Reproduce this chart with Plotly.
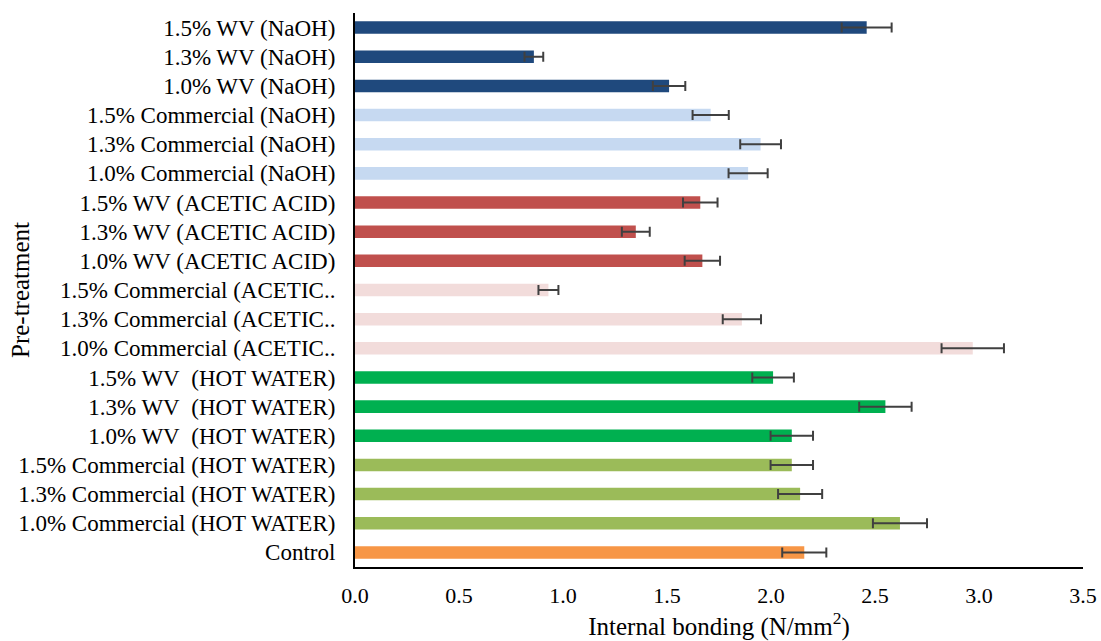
import plotly.graph_objects as go

NB = "\u00a0"
categories = [
    "1.5% WV (NaOH)",
    "1.3% WV (NaOH)",
    "1.0% WV (NaOH)",
    "1.5% Commercial (NaOH)",
    "1.3% Commercial (NaOH)",
    "1.0% Commercial (NaOH)",
    "1.5% WV (ACETIC ACID)",
    "1.3% WV (ACETIC ACID)",
    "1.0% WV (ACETIC ACID)",
    "1.5% Commercial (ACETIC..",
    "1.3% Commercial (ACETIC..",
    "1.0% Commercial (ACETIC..",
    "1.5% WV" + NB + " (HOT WATER)",
    "1.3% WV" + NB + " (HOT WATER)",
    "1.0% WV" + NB + " (HOT WATER)",
    "1.5% Commercial (HOT WATER)",
    "1.3% Commercial (HOT WATER)",
    "1.0% Commercial (HOT WATER)",
    "Control",
]
values = [2.46, 0.86, 1.51, 1.71, 1.95, 1.89, 1.66, 1.35, 1.67, 0.93, 1.86, 2.97,
          2.01, 2.55, 2.10, 2.10, 2.14, 2.62, 2.16]
errors = [0.12, 0.045, 0.078, 0.087, 0.098, 0.094, 0.083, 0.067, 0.085, 0.048, 0.092, 0.15,
          0.10, 0.126, 0.102, 0.102, 0.106, 0.13, 0.106]
colors = ["#1F497D"] * 3 + ["#C6D9F1"] * 3 + ["#C0504D"] * 3 + ["#F2DCDB"] * 3 + \
         ["#00B050"] * 3 + ["#9BBB59"] * 3 + ["#F79646"]
x_ticks = [0.0, 0.5, 1.0, 1.5, 2.0, 2.5, 3.0, 3.5]

FONT = "Liberation Serif, Times New Roman, serif"

fig = go.Figure(go.Bar(
    y=categories,
    x=values,
    orientation="h",
    marker=dict(color=colors, line=dict(width=0)),
    error_x=dict(type="data", array=errors, visible=True, color="#404040",
                 thickness=2, width=5),
    width=0.43,
))

fig.update_layout(
    width=1101, height=641,
    margin=dict(l=355, r=18, t=13, b=74),
    paper_bgcolor="white", plot_bgcolor="white",
    font=dict(family=FONT, size=22, color="black"),
    showlegend=False,
    xaxis=dict(
        range=[0, 3.5], tickvals=x_ticks,
        ticktext=[f"{v:.1f}" for v in x_ticks],
        showgrid=False, zeroline=False, automargin=False,
        showline=True, linecolor="black", linewidth=2,
        ticks="", ticklabelstandoff=8,
        tickfont=dict(family=FONT, size=22),
        title=dict(text="Internal bonding (N/mm<sup>2</sup>)",
                   font=dict(family=FONT, size=25), standoff=4),
    ),
    yaxis=dict(
        type="category", range=[18.5, -0.5],
        showgrid=False, zeroline=False, automargin=False,
        showline=True, linecolor="black", linewidth=2,
        ticks="", ticklabelstandoff=13,
        tickfont=dict(family=FONT, size=23),
    ),
    annotations=[dict(
        text="Pre-treatment", textangle=-90,
        xref="paper", yref="paper",
        x=(20 - 355) / 728, y=0.5, xanchor="center", yanchor="middle",
        showarrow=False, font=dict(family=FONT, size=25),
    )],
)

fig.write_html("out.html",
               config={"displayModeBar": False},
               post_script="document.body.style.margin='0';document.body.style.overflow='hidden';")
